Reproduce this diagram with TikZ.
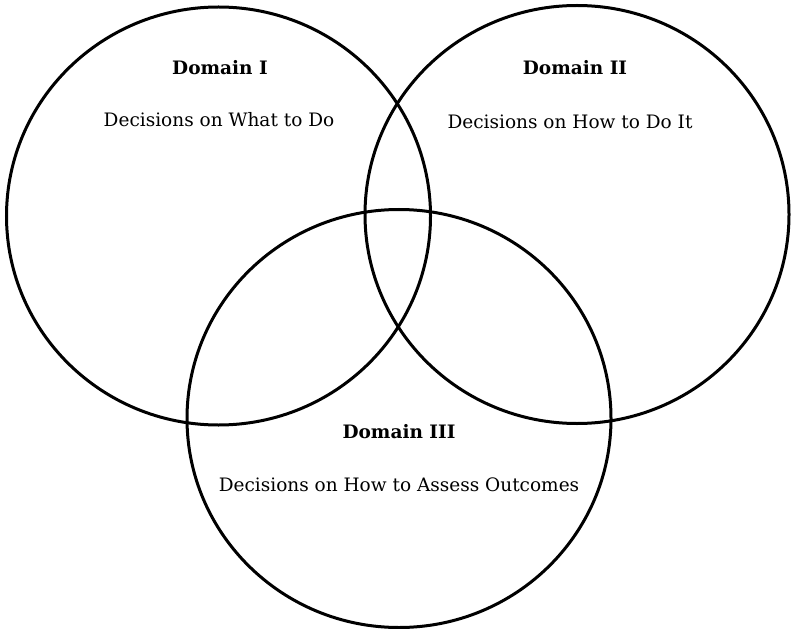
\documentclass[tikz,border=0pt]{standalone}
\usepackage{fontspec}
\setmainfont{DejaVu Serif}
\usetikzlibrary{shapes.geometric}
\begin{document}
\begin{tikzpicture}[x=1pt,y=-1pt,
  domaincircle/.style={ellipse, draw, line width=3pt, inner sep=0pt, outer sep=0pt,
    minimum width=424pt, minimum height=418pt},
  domaintitle/.style={font=\fontsize{18.5}{22}\selectfont\bfseries, inner sep=0pt},
  domaintext/.style={font=\fontsize{18.5}{22}\selectfont, inner sep=0pt}]
  \useasboundingbox (0,0) rectangle (791,628);
  % the three overlapping decision domains
  \node[domaincircle] (d1) at (218.5,216) {};
  \node[domaincircle] (d2) at (577,214.5) {};
  \node[domaincircle] (d3) at (399,418.5) {};
  % labels
  \node[domaintitle] (t1) at (220,68)  {Domain I};
  \node[domaintext]  (c1) at (219,120) {Decisions on What to Do};
  \node[domaintitle] (t2) at (575,68)  {Domain II};
  \node[domaintext]  (c2) at (570,122) {Decisions on How to Do It};
  \node[domaintitle] (t3) at (399,432) {Domain III};
  \node[domaintext]  (c3) at (399,485) {Decisions on How to Assess Outcomes};
\end{tikzpicture}
\end{document}
